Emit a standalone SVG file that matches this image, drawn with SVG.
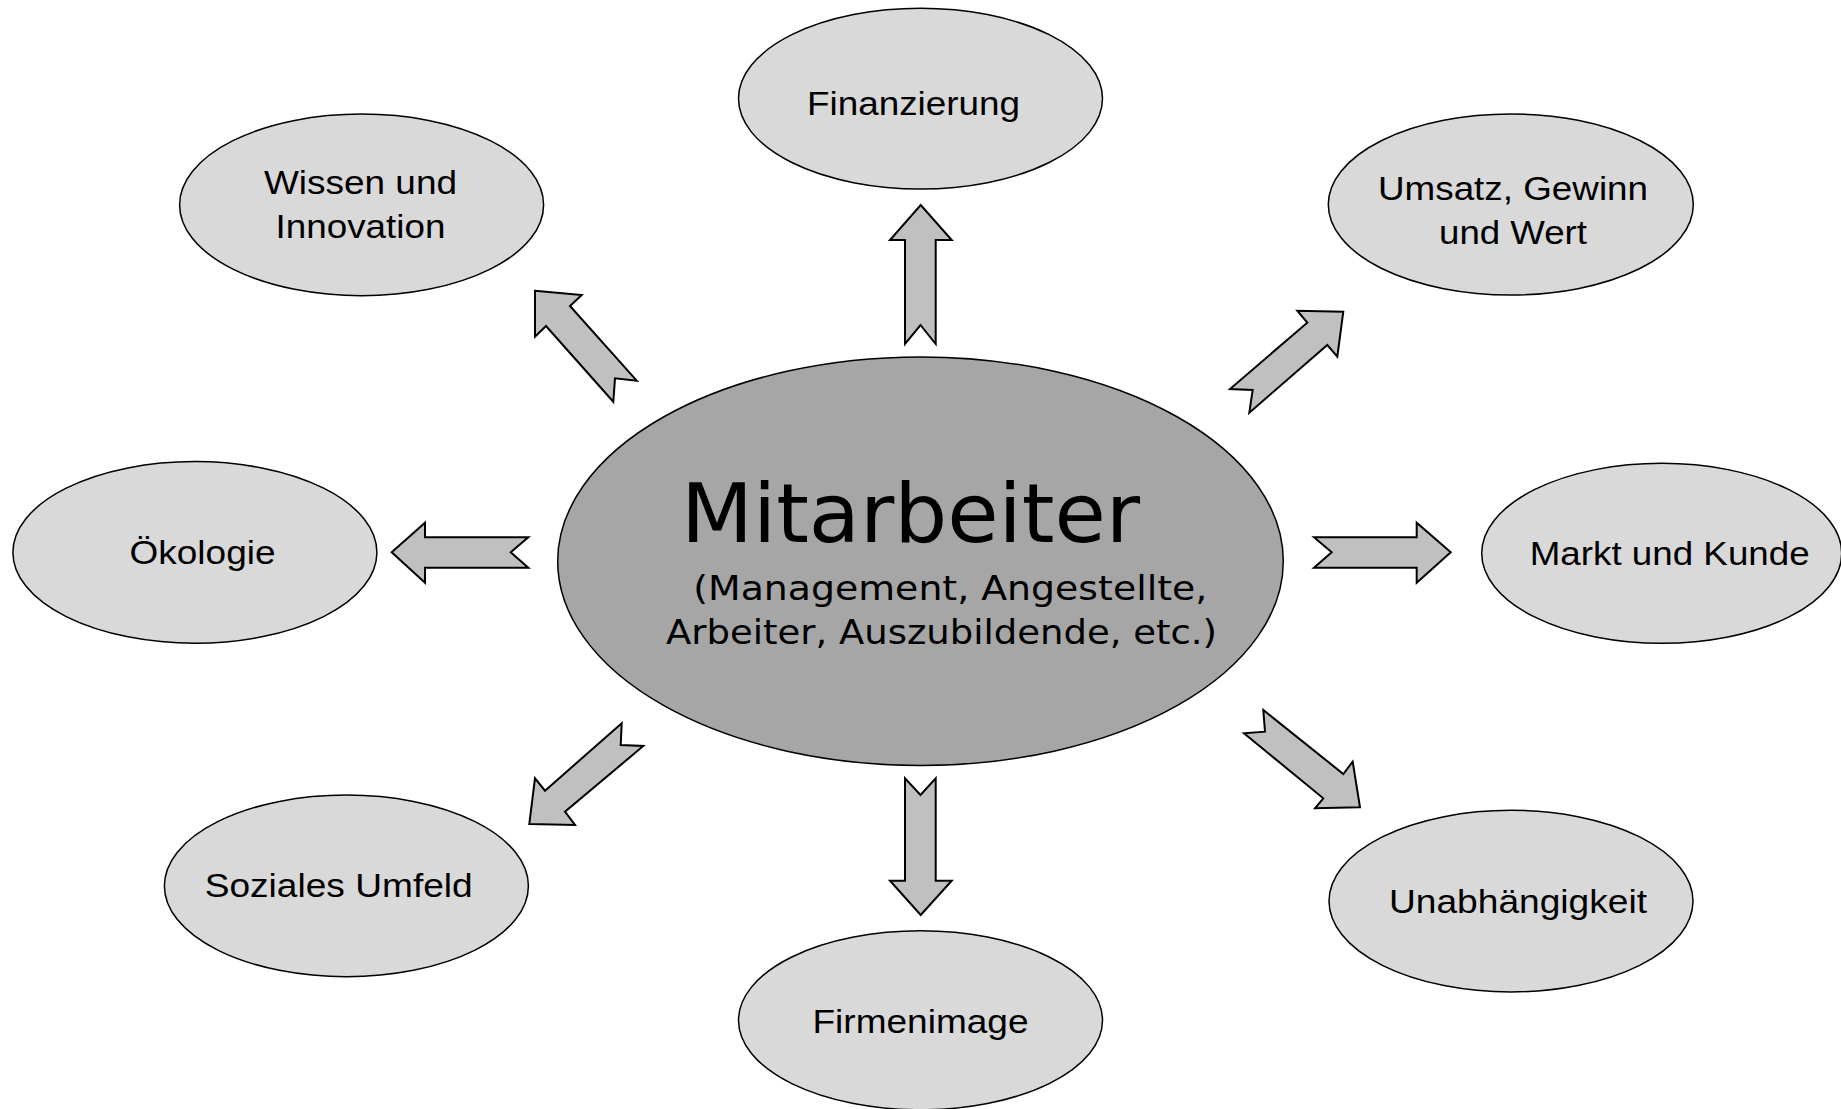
<svg xmlns="http://www.w3.org/2000/svg" width="1841" height="1109" viewBox="0 0 1841 1109">
<style>
.node{fill:#d9d9d9;stroke:#000;stroke-width:1.5}
.center{fill:#a6a6a6;stroke:#000;stroke-width:1.5}
.arrow{fill:#c0c0c0;stroke:#000;stroke-width:2;stroke-linejoin:miter}
.lbl{font-family:"Liberation Sans",Arial,sans-serif;font-size:34px;fill:#000;text-anchor:middle}
.ctr{font-family:"DejaVu Sans",Verdana,sans-serif;fill:#000}
</style>
<rect width="1841" height="1109" fill="#fff"/>
<g id="connectors">
<polygon class="arrow" points="920.7,205 951.7,240 935.7,240 935.7,344 920.5,325 905,344 905,240 890,240"/>
<polygon class="arrow" points="920.7,915 951.7,880.7 935.7,880.7 935.7,778.3 920.5,795 905,778.3 905,880.7 890,880.7"/>
<polygon class="arrow" points="391.7,552.3 425,522.7 425,537.3 528.3,537.3 510.7,552.3 528.3,567.7 425,567.7 425,582.7"/>
<polygon class="arrow" points="1450.7,552.3 1416.7,522.7 1416.7,537.3 1314,537.3 1331.7,552.3 1314,567.7 1416.7,567.7 1416.7,582.7"/>
<polygon class="arrow" points="535,290.7 581.7,295 570,306 636.7,380.7 615,378.3 613.3,401.7 546,326 535,336.7"/>
<polygon class="arrow" points="1343.3,311.7 1337.3,356.7 1327.3,345 1249.3,412.7 1252.7,390 1230,389 1307.3,322.7 1297.3,310.7"/>
<polygon class="arrow" points="529.3,824 575,825 565,811.7 643.3,746 620.7,745 621.7,723.3 545,790.7 535,778.3"/>
<polygon class="arrow" points="1360,807.3 1315,808.3 1323.3,798.3 1244,733.3 1265,731.7 1263.3,710 1343.3,774 1352.7,761.7"/>
</g>
<g id="node-mitarbeiter">
<ellipse class="center" cx="920.5" cy="561.2" rx="362.8" ry="204.3"/>
<text class="ctr" x="681" y="541.7" font-size="82" textLength="459" lengthAdjust="spacingAndGlyphs">Mitarbeiter</text>
<text class="ctr" x="693.3" y="600" font-size="34" textLength="514" lengthAdjust="spacingAndGlyphs">(Management, Angestellte,</text>
<text class="ctr" x="666" y="644.3" font-size="34" textLength="551" lengthAdjust="spacingAndGlyphs">Arbeiter, Auszubildende, etc.)</text>
</g>
<g id="node-finanzierung">
<ellipse class="node" cx="920.5" cy="98.6" rx="182" ry="90.4"/>
<text class="lbl" x="913.5" y="114.5" textLength="213" lengthAdjust="spacingAndGlyphs">Finanzierung</text>
</g>
<g id="node-wissen">
<ellipse class="node" cx="361.6" cy="204.9" rx="182" ry="90.8"/>
<text class="lbl" x="360.5" y="194" textLength="193" lengthAdjust="spacingAndGlyphs">Wissen und</text>
<text class="lbl" x="360.5" y="238" textLength="170" lengthAdjust="spacingAndGlyphs">Innovation</text>
</g>
<g id="node-umsatz">
<ellipse class="node" cx="1510.8" cy="204.5" rx="182.5" ry="90.5"/>
<text class="lbl" x="1513" y="200" textLength="270" lengthAdjust="spacingAndGlyphs">Umsatz, Gewinn</text>
<text class="lbl" x="1513" y="244" textLength="148" lengthAdjust="spacingAndGlyphs">und Wert</text>
</g>
<g id="node-oekologie">
<ellipse class="node" cx="194.9" cy="552.4" rx="182" ry="90.8"/>
<text class="lbl" x="202.5" y="564" textLength="146" lengthAdjust="spacingAndGlyphs">Ökologie</text>
</g>
<g id="node-markt">
<ellipse class="node" cx="1661.7" cy="553.3" rx="180" ry="90"/>
<text class="lbl" x="1669.7" y="565" textLength="280" lengthAdjust="spacingAndGlyphs">Markt und Kunde</text>
</g>
<g id="node-soziales">
<ellipse class="node" cx="346.4" cy="885.9" rx="182" ry="90.8"/>
<text class="lbl" x="338.7" y="897" textLength="268" lengthAdjust="spacingAndGlyphs">Soziales Umfeld</text>
</g>
<g id="node-firmenimage">
<ellipse class="node" cx="920.5" cy="1020.3" rx="182" ry="89.5"/>
<text class="lbl" x="920.5" y="1033" textLength="216" lengthAdjust="spacingAndGlyphs">Firmenimage</text>
</g>
<g id="node-unabhaengigkeit">
<ellipse class="node" cx="1511" cy="901.1" rx="182" ry="90.8"/>
<text class="lbl" x="1518" y="913" textLength="258" lengthAdjust="spacingAndGlyphs">Unabhängigkeit</text>
</g>
</svg>
